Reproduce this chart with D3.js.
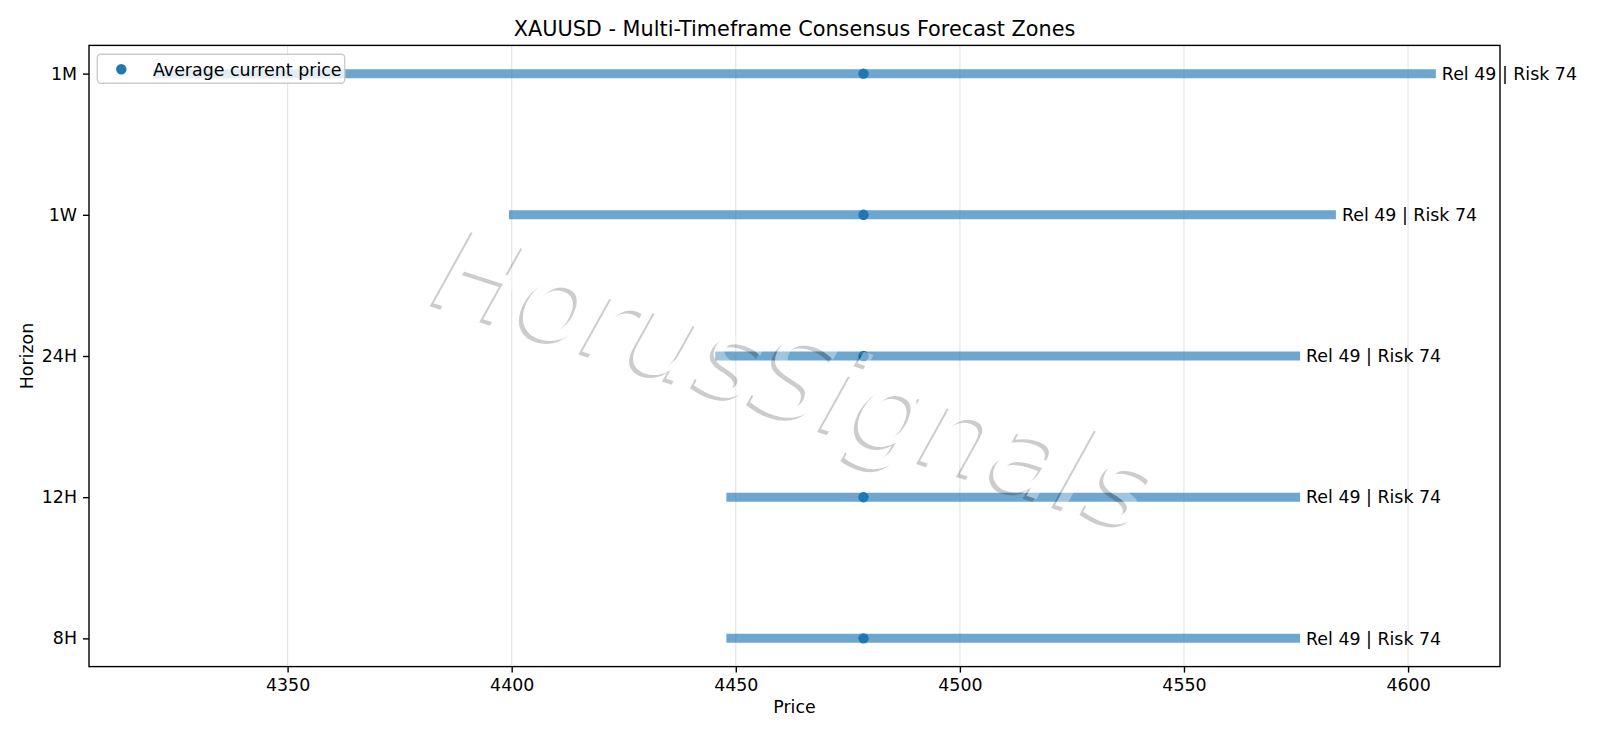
<!DOCTYPE html>
<html>
<head>
<meta charset="utf-8">
<script src="https://cdn.jsdelivr.net/npm/d3@7"></script>
<style>
  body { margin: 0; background: #fff; }
  svg { display: block; font-family: "DejaVu Sans", sans-serif; }
</style>
</head>
<body>
<script>
// horizons from bottom to top
var horizons = ["8H", "12H", "24H", "1W", "1M"];
var zoneLow = [4447.9, 4447.9, 4445.4, 4399.4, 4320.0];
var zoneHigh = [4575.9, 4575.9, 4575.9, 4583.9, 4606.2];
var currentPrice = [4478.5, 4478.5, 4478.5, 4478.5, 4478.5];
var relScore = [49, 49, 49, 49, 49];
var riskScore = [74, 74, 74, 74, 74];
var xTicks = [4350, 4400, 4450, 4500, 4550, 4600];

var W = 1600, H = 738;
var plot = { left: 89, right: 1500, top: 45.4, bottom: 666.6 };
var blue = "#1f77b4";

var svg = d3.select("body").append("svg")
    .attr("width", W)
    .attr("height", H);

// x limits like matplotlib autoscale: 5% margin
var lo = d3.min(zoneLow), hi = d3.max(zoneHigh);
var pad = (hi - lo) * 0.05;
var x = d3.scaleLinear()
    .domain([lo - pad, hi + pad])
    .range([plot.left, plot.right]);

var y = d3.scaleLinear()
    .domain([-0.2, horizons.length - 1 + 0.2])
    .range([plot.bottom, plot.top]);

var rows = horizons.map(function (h, i) {
    return { h: h, i: i, lo: zoneLow[i], hi: zoneHigh[i], cur: currentPrice[i],
             rel: relScore[i], risk: riskScore[i] };
});

// vertical grid
svg.append("g")
    .selectAll("line")
    .data(xTicks)
    .enter().append("line")
    .attr("x1", function (d) { return x(d); })
    .attr("x2", function (d) { return x(d); })
    .attr("y1", plot.top)
    .attr("y2", plot.bottom)
    .attr("stroke", "#b0b0b0")
    .attr("stroke-opacity", 0.35)
    .attr("stroke-width", 1.1);

// zone bars
svg.append("g")
    .selectAll("line")
    .data(rows)
    .enter().append("line")
    .attr("x1", function (d) { return x(d.lo); })
    .attr("x2", function (d) { return x(d.hi); })
    .attr("y1", function (d) { return y(d.i); })
    .attr("y2", function (d) { return y(d.i); })
    .attr("stroke", blue)
    .attr("stroke-opacity", 0.65)
    .attr("stroke-width", 9);

// current price dots
svg.append("g")
    .selectAll("circle")
    .data(rows)
    .enter().append("circle")
    .attr("cx", function (d) { return x(d.cur); })
    .attr("cy", function (d) { return y(d.i); })
    .attr("r", 5.2)
    .attr("fill", blue);

// labels to the right of each zone
svg.append("g")
    .selectAll("text")
    .data(rows)
    .enter().append("text")
    .attr("x", function (d) { return x(d.hi) + 6; })
    .attr("y", function (d) { return y(d.i); })
    .attr("dy", "0.36em")
    .style("font-size", "17.4px")
    .text(function (d) { return "Rel " + d.rel + " | Risk " + d.risk; });

// axes
var xAxis = svg.append("g")
    .attr("transform", "translate(0," + plot.bottom + ")")
    .call(d3.axisBottom(x).tickValues(xTicks).tickFormat(d3.format("d"))
        .tickSizeInner(6).tickSizeOuter(0).tickPadding(6));

var yAxis = svg.append("g")
    .attr("transform", "translate(" + plot.left + ",0)")
    .call(d3.axisLeft(y).tickValues(d3.range(horizons.length))
        .tickFormat(function (d) { return horizons[d]; })
        .tickSizeInner(6).tickSizeOuter(0).tickPadding(6));

[xAxis, yAxis].forEach(function (a) {
    a.select(".domain").remove();
    a.selectAll("line").attr("stroke", "#000").attr("stroke-width", 1.4);
    a.selectAll("text").style("font-size", "17.4px")
        .style("font-family", "DejaVu Sans").attr("fill", "#000");
});

// spines
svg.append("rect")
    .attr("x", plot.left)
    .attr("y", plot.top)
    .attr("width", plot.right - plot.left)
    .attr("height", plot.bottom - plot.top)
    .attr("fill", "none")
    .attr("stroke", "#000")
    .attr("stroke-width", 1.4);

// title and axis labels
svg.append("text")
    .attr("x", (plot.left + plot.right) / 2)
    .attr("y", 36)
    .attr("text-anchor", "middle")
    .style("font-size", "20.8px")
    .text("XAUUSD - Multi-Timeframe Consensus Forecast Zones");

svg.append("text")
    .attr("x", (plot.left + plot.right) / 2)
    .attr("y", 712.5)
    .attr("text-anchor", "middle")
    .style("font-size", "17.4px")
    .text("Price");

svg.append("text")
    .attr("transform", "translate(33," + ((plot.top + plot.bottom) / 2) + ") rotate(-90)")
    .attr("text-anchor", "middle")
    .style("font-size", "17.4px")
    .text("Horizon");

// legend
var lg = svg.append("g").attr("transform", "translate(97.3,54.3)");
lg.append("rect")
    .attr("width", 247.4)
    .attr("height", 29)
    .attr("rx", 3.5)
    .attr("fill", "#fff")
    .attr("fill-opacity", 0.8)
    .attr("stroke", "#cccccc")
    .attr("stroke-width", 1.4);
lg.append("circle")
    .attr("cx", 24)
    .attr("cy", 15)
    .attr("r", 5.2)
    .attr("fill", blue);
lg.append("text")
    .attr("x", 55.7)
    .attr("y", 15)
    .attr("dy", "0.36em")
    .style("font-size", "17.4px")
    .text("Average current price");

// watermark with a drop shadow that only shows outside the letters
var wm = { x: 797, y: 378, angle: 18, size: 114, dx: -4, dy: 3 };
var defs = svg.append("defs");
var mask = defs.append("mask").attr("id", "wm-cut")
    .attr("maskUnits", "userSpaceOnUse")
    .attr("x", 0).attr("y", 0).attr("width", W).attr("height", H);
mask.append("rect").attr("width", W).attr("height", H).attr("fill", "#fff");

function wmText(sel) {
    return sel.append("text")
        .attr("text-anchor", "middle")
        .attr("dy", "0.36em")
        .style("font-size", wm.size + "px")
        .style("font-style", "italic")
        .text("HorusSignals");
}

wmText(mask.append("g")
    .attr("transform", "translate(" + wm.x + "," + wm.y + ") rotate(" + wm.angle + ")"))
    .attr("fill", "#000");

wmText(svg.append("g")
    .attr("mask", "url(#wm-cut)")
    .append("g")
    .attr("transform", "translate(" + (wm.x + wm.dx) + "," + (wm.y + wm.dy) + ") rotate(" + wm.angle + ")"))
    .attr("fill", "#000")
    .attr("fill-opacity", 0.2);

wmText(svg.append("g")
    .attr("transform", "translate(" + wm.x + "," + wm.y + ") rotate(" + wm.angle + ")"))
    .attr("fill", "#fff")
    .attr("fill-opacity", 0.35);
</script>
</body>
</html>
